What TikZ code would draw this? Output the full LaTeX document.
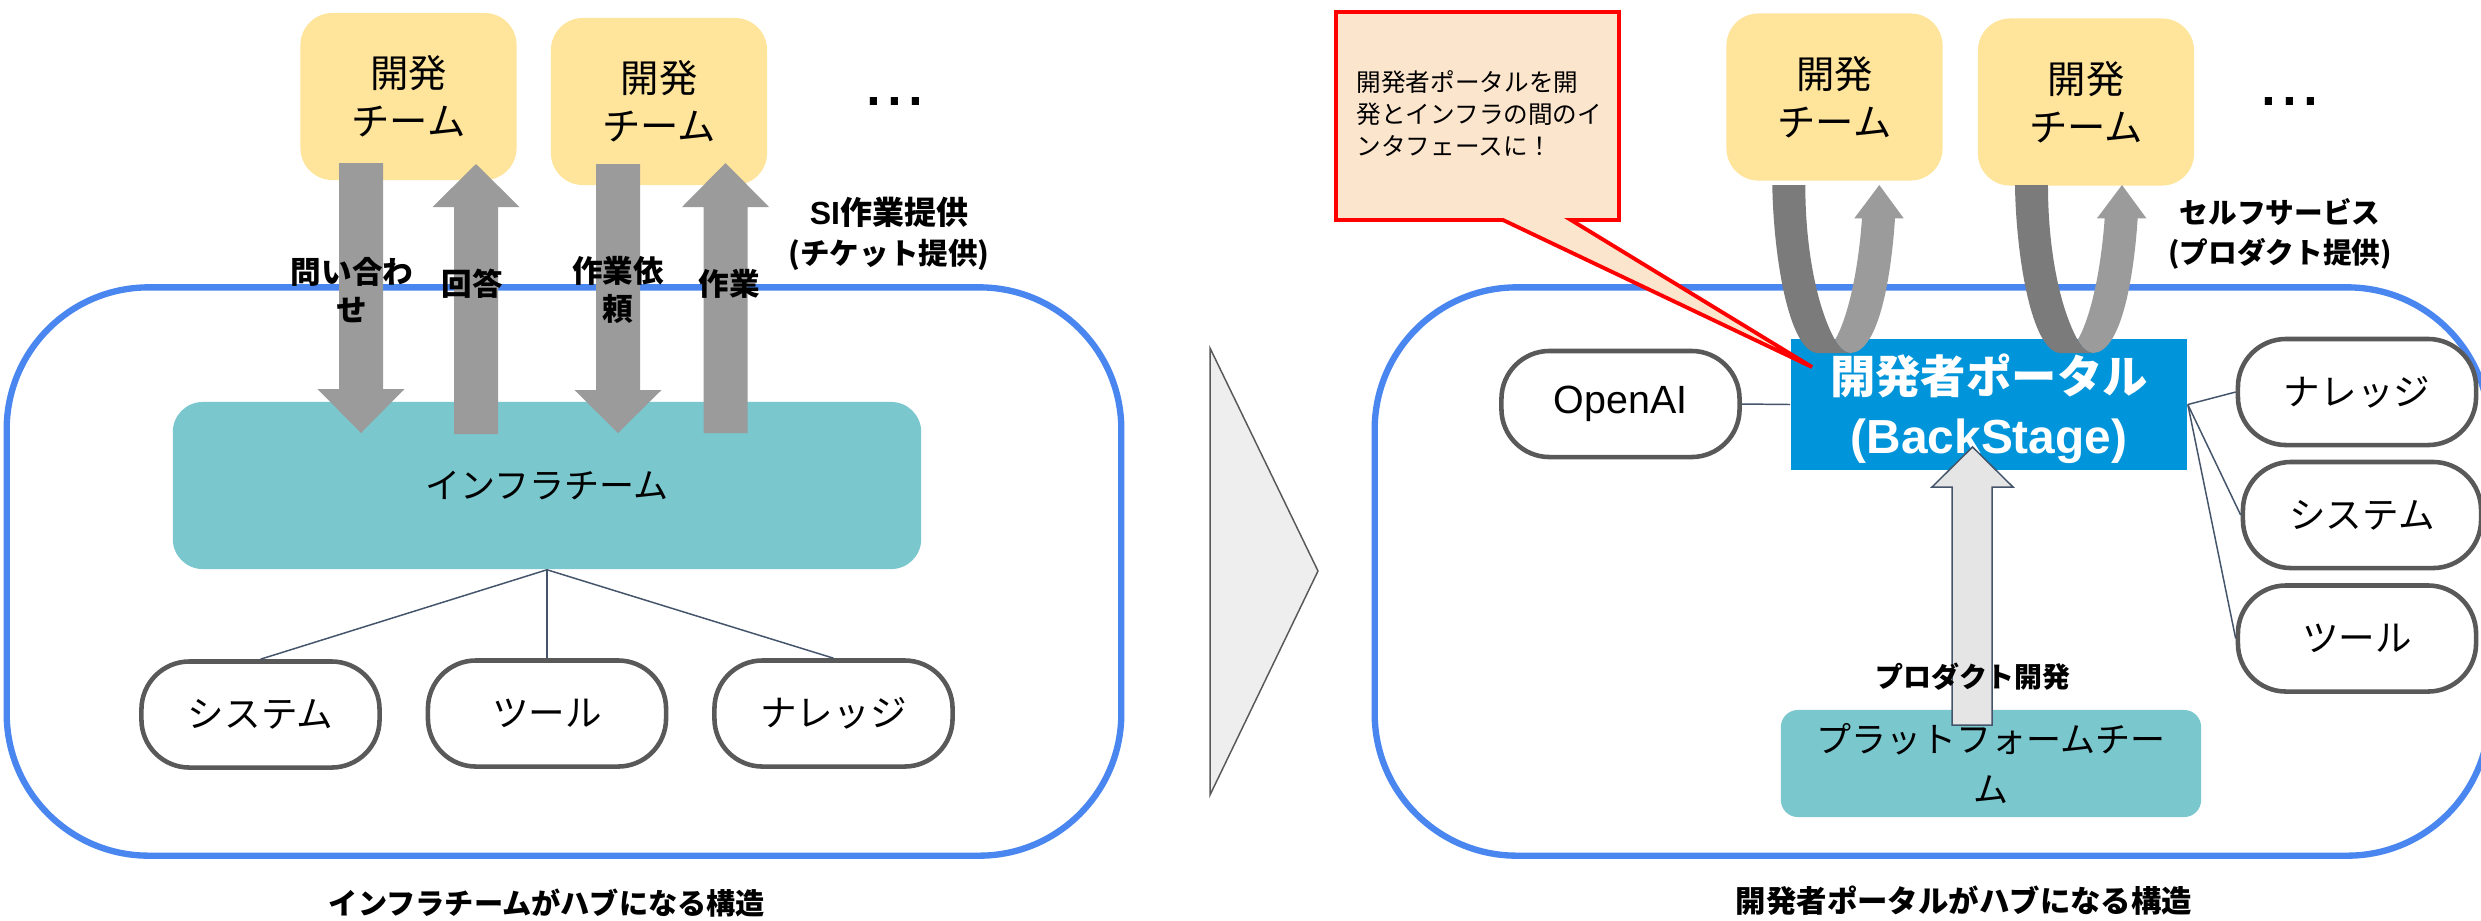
\documentclass[tikz,border=0pt]{standalone}
\usepackage{fontspec}
\setmainfont{Noto Sans CJK JP}
\newfontfamily\latinfont{Liberation Sans}
\definecolor{framebl}{HTML}{4A86F0}
\definecolor{teamyl}{HTML}{FFE49B}
\definecolor{tealbx}{HTML}{7AC7CE}
\definecolor{portalbl}{HTML}{0095DA}
\definecolor{linkcl}{HTML}{44546A}
\definecolor{pillcl}{HTML}{595959}
\definecolor{arrowgr}{HTML}{9B9B9B}
\definecolor{darkgr}{HTML}{7B7B7B}
\definecolor{calloutbg}{HTML}{FCE5CD}
\tikzset{
  hubframe/.style={draw=framebl,line width=1.8pt,fill=white,rounded corners=1.42cm,minimum width=11.14cm,minimum height=5.68cm,inner sep=0pt},
  teambox/.style={fill=teamyl,rounded corners=0.32cm,minimum width=2.16cm,minimum height=1.67cm,inner sep=0pt,align=center,font=\fontsize{10.9}{13.66}\selectfont},
  tealbox/.style={fill=tealbx,inner sep=0pt,align=center,font=\fontsize{9.96}{14.23}\selectfont},
  pill/.style={draw=pillcl,line width=1.3pt,fill=white,rounded corners=0.48cm,minimum width=2.38cm,minimum height=1.06cm,inner sep=0pt,font=\fontsize{10.4}{12}\selectfont},
  boldlabel/.style={inner sep=0pt,align=center,font=\fontsize{8.7}{10.81}\selectfont\bfseries},
  link/.style={draw=linkcl,line width=0.42pt},
  greyarrow/.style={fill=arrowgr},
  dotslabel/.style={inner sep=0pt,font=\fontsize{21.3}{24}\selectfont\latinfont},
}
\begin{document}
\begin{tikzpicture}[x=0.01cm,y=-0.01cm]
\useasboundingbox (0,0) rectangle (2481,920);

% left side
\node[hubframe] (frameL) at (564,571.5) {};
\node[hubframe] (frameR) at (1932,571.5) {};

\node[teambox] (teamA) at (408.5,96.5) {開発\\チーム};
\node[teambox] (teamB) at (659,101.5) {開発\\チーム};
\node[tealbox,rounded corners=0.30cm,minimum width=7.48cm,minimum height=1.67cm] (infra) at (547,485.5) {インフラチーム};

\foreach \c/\t/\h/\e in {361/163/389/433, 476/434/207/164, 618/164/390/433, 725.5/433/207/163}
  \fill[greyarrow] (\c-22,\t) -- (\c+22,\t) -- (\c+22,\h) -- (\c+43.5,\h) -- (\c,\e) -- (\c-43.5,\h) -- (\c-22,\h) -- cycle;

\node[boldlabel] (lblAsk) at (352,290) {問い合わ\\せ};
\node[boldlabel] (lblAns) at (472,284) {回答};
\node[boldlabel] (lblReq) at (618,290) {作業依\\頼};
\node[boldlabel] (lblWork) at (729,284) {作業};
\node[boldlabel,font=\fontsize{8.4}{11.2}\selectfont\bfseries] (lblSI) at (889,234) {{\fontsize{9.1}{11.2}\selectfont{\latinfont\bfseries SI}作業提供}\\(チケット提供)};
\node[dotslabel] (dotsL) at (895,101) {...};

\node[pill] (sysL) at (260.5,714.5) {システム};
\node[pill] (toolL) at (547,713.5) {ツール};
\node[pill] (knowL) at (833.5,713.5) {ナレッジ};
\draw[link] (infra.south) -- (sysL.north);
\draw[link] (infra.south) -- (toolL.north);
\draw[link] (infra.south) -- (knowL.north);

\node[boldlabel,font=\fontsize{8.3}{10.81}\selectfont\bfseries] (capL) at (547,903) {インフラチームがハブになる構造};

% middle triangle
\draw[draw=pillcl,line width=0.42pt,fill=black!6.5] (1210,348) -- (1318,571) -- (1210,795) -- cycle;

% right side
\node[fill=portalbl,minimum width=3.96cm,minimum height=1.31cm,inner sep=0pt] (portal) at (1989,404.5) {};
\node[inner sep=0pt,align=center,text=white,font=\fontsize{12.9}{17}\selectfont\bfseries] (portalText) at (1989,409) {開発者ポータル\\{\fontsize{13.6}{15.7}\selectfont\latinfont\bfseries (BackStage)}};

\node[teambox] (teamC) at (1834.5,97) {開発\\チーム};
\node[teambox] (teamD) at (2086,102) {開発\\チーム};

\foreach \dx in {0,242.67}{
  \begin{scope}[shift={(\dx,0)}]
    \fill[arrowgr] (1850,353) .. controls (1880,353) and (1891.7,270) .. (1895,218.3)
      -- (1903.7,218.3) -- (1879.3,185) -- (1854.3,218.3) -- (1862,218.3)
      .. controls (1858.3,270) and (1848.3,316.7) .. (1835,340)
      .. controls (1838.3,345) and (1841.7,351.7) .. (1850,353) -- cycle;
    \fill[darkgr] (1772.3,185) .. controls (1773.3,253.3) and (1788.3,353) .. (1818.3,353)
      -- (1850,353) .. controls (1841.7,351.7) and (1838.3,345) .. (1835,340)
      .. controls (1818.3,310) and (1805.3,253.3) .. (1805.3,185) -- cycle;
  \end{scope}
}

\draw[draw=red,line width=1.1pt,fill=calloutbg,miter limit=4] (1336,12) -- (1619,12) -- (1619,220) -- (1571,220) -- (1812,367) -- (1503,220) -- (1336,220) -- cycle;
\node[inner sep=0pt,anchor=north west,align=left,font=\fontsize{7.0}{9.1}\selectfont] (calloutText) at (1356,70) {開発者ポータルを開\\発とインフラの間のイ\\ンタフェースに！};

\node[pill,font=\fontsize{11.2}{13}\selectfont\latinfont] (openai) at (1620.5,404) {OpenAI};
\node[pill] (knowR) at (2357,392) {ナレッジ};
\node[pill] (sysR) at (2362,515) {システム};
\node[pill] (toolR) at (2357,638.5) {ツール};
\draw[link] (openai.east) -- (portal.west);
\draw[link] (portal.east) -- (knowR.west);
\draw[link] (portal.east) -- (sysR.west);
\draw[link] (portal.east) -- (toolR.west);

\node[tealbox,rounded corners=0.17cm,minimum width=4.2cm,minimum height=1.07cm] (platform) at (1991,763.5) {プラットフォームチー\\ム};
\draw[draw=linkcl,line width=0.42pt,fill=black!10] (1952,725) -- (1992,725) -- (1992,487) -- (2013,487) -- (1972.5,447) -- (1932,487) -- (1952,487) -- cycle;
\node[boldlabel,font=\fontsize{7.95}{10}\selectfont\bfseries] (lblDev) at (1973,677) {プロダクト開発};

\node[boldlabel,font=\fontsize{8.15}{11.2}\selectfont\bfseries] (lblSelf) at (2280,234) {セルフサービス\\(プロダクト提供)};
\node[dotslabel] (dotsR) at (2290,101) {...};

\node[boldlabel,font=\fontsize{8.65}{10.81}\selectfont\bfseries] (capR) at (1964,901) {開発者ポータルがハブになる構造};
\end{tikzpicture}
\end{document}
